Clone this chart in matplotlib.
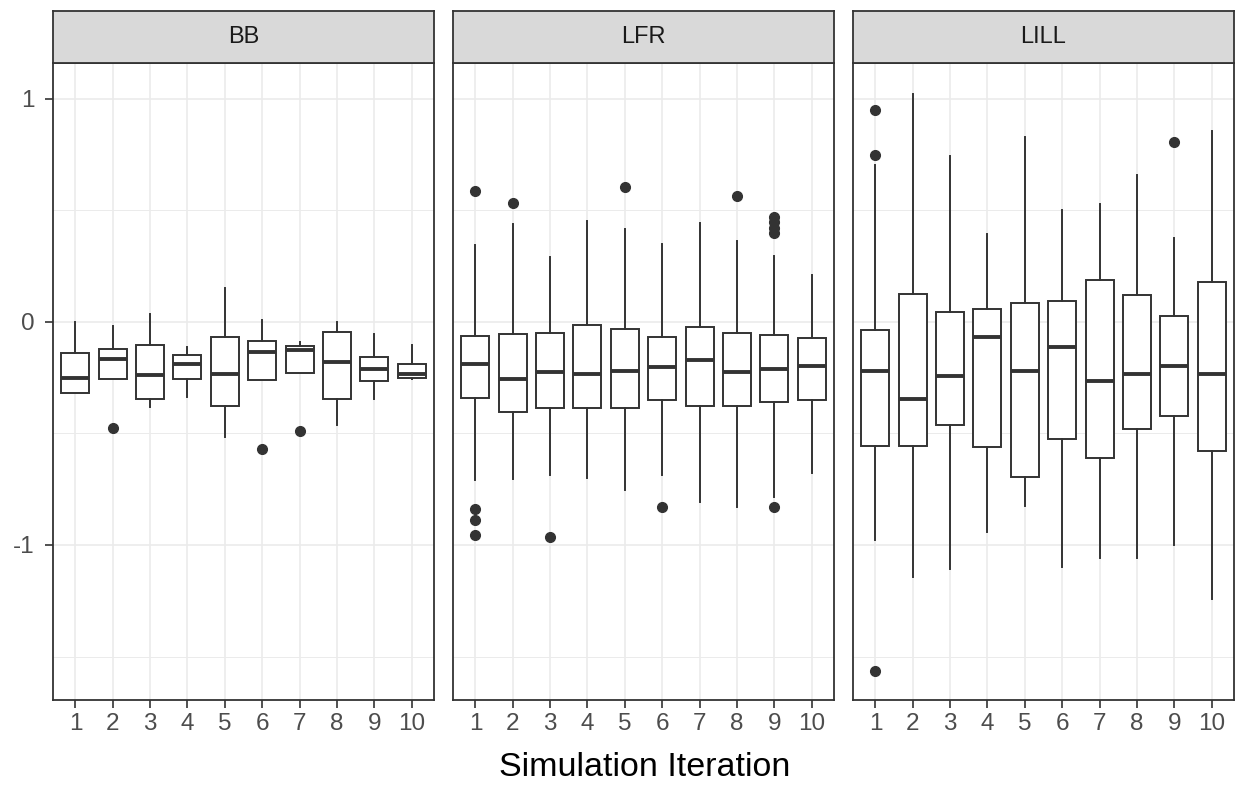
import matplotlib
matplotlib.use("Agg")
import matplotlib.pyplot as plt

plt.rcParams['font.family'] = ['Liberation Sans', 'DejaVu Sans']
plt.rcParams['axes.unicode_minus'] = False

facets = ["BB", "LFR", "LILL"]
iterations = [1, 2, 3, 4, 5, 6, 7, 8, 9, 10]

# BB
bb_whislo = [-0.32, -0.255, -0.382, -0.335, -0.518, -0.26, -0.23, -0.461, -0.345, -0.255]
bb_q1 = [-0.32, -0.254, -0.345, -0.254, -0.379, -0.26, -0.23, -0.345, -0.264, -0.25]
bb_med = [-0.25, -0.166, -0.237, -0.188, -0.232, -0.134, -0.124, -0.181, -0.213, -0.232]
bb_q3 = [-0.14, -0.12, -0.105, -0.147, -0.066, -0.087, -0.107, -0.047, -0.158, -0.19]
bb_whishi = [0.0, -0.02, 0.036, -0.113, 0.154, 0.008, -0.09, 0.0, -0.056, -0.104]
bb_fliers = [[], [-0.476], [], [], [], [-0.571], [-0.49], [], [], []]

# LFR
lfr_whislo = [-0.708, -0.702, -0.684, -0.699, -0.755, -0.684, -0.806, -0.83, -0.783, -0.678]
lfr_q1 = [-0.339, -0.405, -0.388, -0.388, -0.384, -0.35, -0.377, -0.379, -0.358, -0.35]
lfr_med = [-0.188, -0.254, -0.226, -0.234, -0.218, -0.203, -0.171, -0.226, -0.211, -0.198]
lfr_q3 = [-0.062, -0.056, -0.049, -0.015, -0.03, -0.068, -0.023, -0.049, -0.058, -0.072]
lfr_whishi = [0.343, 0.437, 0.292, 0.452, 0.418, 0.348, 0.444, 0.362, 0.296, 0.211]
lfr_fliers = [[0.588, -0.84, -0.89, -0.957], [0.535], [-0.962], [], [0.605],
              [-0.83], [], [0.565], [0.471, 0.446, 0.422, 0.399, -0.83], []]

# LILL
lill_whislo = [-0.979, -1.145, -1.107, -0.944, -0.825, -1.098, -1.057, -1.057, -0.998, -1.243]
lill_q1 = [-0.554, -0.557, -0.46, -0.561, -0.693, -0.527, -0.608, -0.482, -0.42, -0.58]
lill_med = [-0.222, -0.345, -0.241, -0.066, -0.222, -0.113, -0.264, -0.235, -0.198, -0.234]
lill_q3 = [-0.038, 0.124, 0.045, 0.058, 0.083, 0.096, 0.186, 0.121, 0.028, 0.177]
lill_whishi = [0.704, 1.024, 0.742, 0.394, 0.829, 0.503, 0.531, 0.659, 0.377, 0.857]
lill_fliers = [[0.951, 0.748, -1.563], [], [], [], [], [], [], [], [0.808], []]

data = {
    "BB": (bb_whislo, bb_q1, bb_med, bb_q3, bb_whishi, bb_fliers),
    "LFR": (lfr_whislo, lfr_q1, lfr_med, lfr_q3, lfr_whishi, lfr_fliers),
    "LILL": (lill_whislo, lill_q1, lill_med, lill_q3, lill_whishi, lill_fliers),
}

W, H = 1237, 787
fig = plt.figure(figsize=(W / 100, H / 100), dpi=100)
fig.patch.set_facecolor("white")

panel_lefts = [53, 453, 853]
panel_w = 381
panel_top = 63
panel_bot = 700
strip_top = 11

border = "#333333"
grid = "#EBEBEB"
tickc = "#4D4D4D"

for i, name in enumerate(facets):
    left = panel_lefts[i]
    ax = fig.add_axes([left / W, (H - panel_bot) / H, panel_w / W, (panel_bot - panel_top) / H])
    wlo, q1, med, q3, whi, fl = data[name]
    stats = []
    for k in range(len(iterations)):
        stats.append(dict(whislo=wlo[k], q1=q1[k], med=med[k], q3=q3[k],
                          whishi=whi[k], fliers=fl[k], label=str(iterations[k])))
    ax.bxp(stats, positions=iterations, widths=0.75, showcaps=False,
           boxprops=dict(color=border, linewidth=1.4),
           whiskerprops=dict(color=border, linewidth=1.4),
           medianprops=dict(color=border, linewidth=2.8),
           flierprops=dict(marker='o', markerfacecolor=border, markeredgecolor=border,
                           markersize=7),
           patch_artist=True, zorder=3)
    for p in ax.patches:
        p.set_facecolor("white")
        p.set_edgecolor(border)
    ax.set_xlim(0.4, 10.6)
    ax.set_ylim(-1.695, 1.161)
    ax.set_yticks([-1, 0, 1])
    ax.set_yticks([-1.5, -0.5, 0.5], minor=True)
    ax.set_xticks(iterations)
    ax.set_xticklabels([str(v) for v in iterations])
    ax.grid(True, which='major', color=grid, linewidth=1.2, zorder=0)
    ax.grid(True, which='minor', axis='y', color=grid, linewidth=0.7, zorder=0)
    ax.set_axisbelow(True)
    ax.tick_params(axis='x', which='major', length=6, color=border, width=1.2,
                   labelsize=17.5, labelcolor=tickc, pad=3)
    ax.tick_params(axis='y', which='major', length=6, color=border, width=1.2,
                   labelsize=17.5, labelcolor=tickc, pad=7)
    ax.tick_params(axis='both', which='minor', length=0)
    if i == 0:
        ax.set_yticklabels(["-1", "0", "1"])
    else:
        ax.tick_params(axis='y', which='major', length=0, labelleft=False)
    for s in ax.spines.values():
        s.set_color(border)
        s.set_linewidth(1.3)

    sax = fig.add_axes([left / W, (H - panel_top) / H, panel_w / W, (panel_top - strip_top) / H])
    sax.set_facecolor("#D9D9D9")
    sax.set_xticks([])
    sax.set_yticks([])
    for s in sax.spines.values():
        s.set_color(border)
        s.set_linewidth(1.3)
    sax.text(0.5, 0.5, name, ha='center', va='center', fontsize=17, color="#1A1A1A",
             transform=sax.transAxes)

fig.text(645 / W, 1 - 768 / H, "Simulation Iteration", ha='center', va='center',
         fontsize=24.5, color="black")

fig.savefig("out.png", dpi=100, facecolor="white")
